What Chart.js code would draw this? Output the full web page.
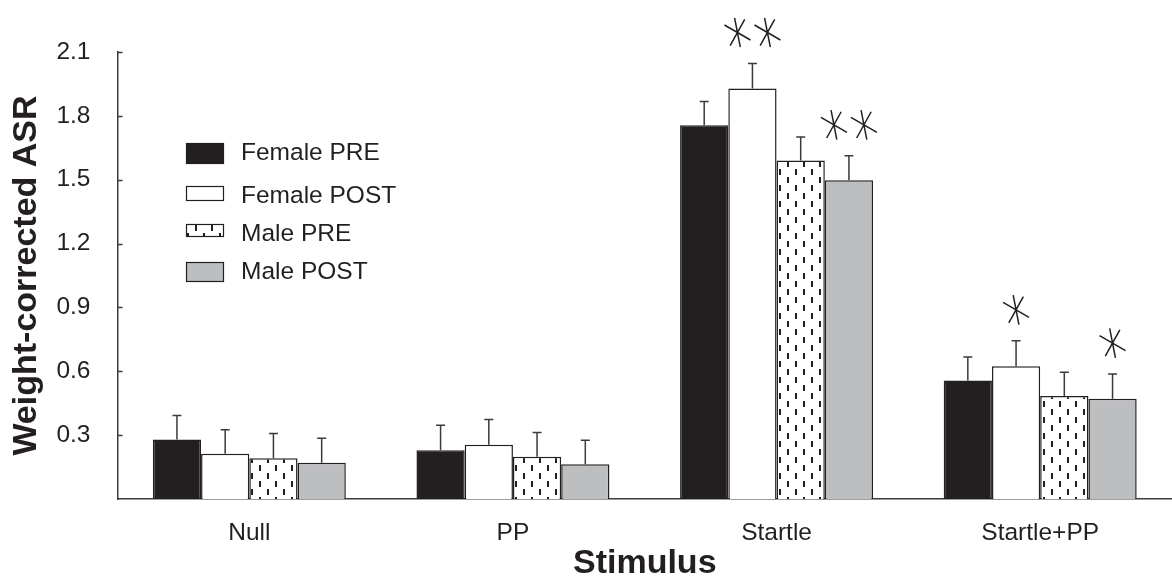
<!DOCTYPE html>
<html>
<head>
<meta charset="utf-8">
<script src="https://cdn.jsdelivr.net/npm/chart.js@4"></script>
<style>
  html, body { margin: 0; padding: 0; background: #ffffff; }
  #wrap { width: 1172px; height: 577px; }
</style>
</head>
<body>
<div id="wrap"><canvas id="chart" width="1172" height="577"></canvas></div>
<script>
// Dati
const categories = ['Null', 'PP', 'Startle', 'Startle+PP'];
const seriesLabels = ['Female PRE', 'Female POST', 'Male PRE', 'Male POST'];

const femalePre = [0.279, 0.229, 1.756, 0.557];
const femalePost = [0.213, 0.255, 1.928, 0.624];
const malePre = [0.191, 0.198, 1.590, 0.484];
const malePost = [0.170, 0.163, 1.498, 0.471];

// errore standard (solo barra superiore)
const femalePreErr = [0.113, 0.117, 0.112, 0.110];
const femalePostErr = [0.112, 0.118, 0.118, 0.119];
const malePreErr = [0.117, 0.115, 0.111, 0.112];
const malePostErr = [0.115, 0.113, 0.114, 0.116];

// numero di asterischi sopra ogni barra
const femalePreSig = [0, 0, 0, 0];
const femalePostSig = [0, 0, 2, 1];
const malePreSig = [0, 0, 0, 0];
const malePostSig = [0, 0, 2, 1];

const yTickValues = [0, 0.3, 0.6, 0.9, 1.2, 1.5, 1.8, 2.1];

const INK = '#231f20';
const FONT = "'Liberation Sans', Arial, sans-serif";

// Pattern a trattini verticali per "Male PRE"
function makeDashPattern() {
    const tile = document.createElement('canvas');
    tile.width = 16;
    tile.height = 16;
    const c = tile.getContext('2d');
    c.fillStyle = '#ffffff';
    c.fillRect(0, 0, 16, 16);
    c.fillStyle = INK;
    c.fillRect(3, 1, 2, 6);
    c.fillRect(11, 9, 2, 6);
    return c.createPattern(tile, 'repeat');
}

const dashPattern = makeDashPattern();

// Disegna un asterisco a 6 bracci
function drawAsterisk(ctx, cx, cy, r) {
    const angles = [30, 79, 119];
    ctx.beginPath();
    angles.forEach(a => {
        const rad = a * Math.PI / 180;
        const dx = Math.cos(rad) * r;
        const dy = Math.sin(rad) * r;
        ctx.moveTo(cx - dx, cy - dy);
        ctx.lineTo(cx + dx, cy + dy);
    });
    ctx.stroke();
}

// Barre di errore + asterischi
const errorBarsPlugin = {
    id: 'errorBars',
    afterDatasetsDraw(chart) {
        const ctx = chart.ctx;
        const yScale = chart.scales.y;
        ctx.save();
        chart.data.datasets.forEach((ds, i) => {
            const meta = chart.getDatasetMeta(i);
            meta.data.forEach((bar, j) => {
                const topY = yScale.getPixelForValue(ds.data[j] + ds.errors[j]);
                ctx.strokeStyle = '#3a3a3a';
                ctx.lineWidth = 1.5;
                ctx.beginPath();
                ctx.moveTo(bar.x, bar.y);
                ctx.lineTo(bar.x, topY);
                ctx.moveTo(bar.x - 4.5, topY);
                ctx.lineTo(bar.x + 4.5, topY);
                ctx.stroke();

                const n = ds.sig[j];
                if (n > 0) {
                    ctx.strokeStyle = INK;
                    ctx.lineWidth = 1.5;
                    const cy = topY - 31;
                    for (let k = 0; k < n; k++) {
                        const cx = bar.x + (k - (n - 1) / 2) * 30;
                        drawAsterisk(ctx, cx, cy, 15);
                    }
                }
            });
        });
        ctx.restore();
    }
};

// Tacche interne sull'asse Y
const innerTicksPlugin = {
    id: 'innerTicks',
    afterDraw(chart) {
        const ctx = chart.ctx;
        const yScale = chart.scales.y;
        const x0 = chart.chartArea.left;
        ctx.save();
        ctx.strokeStyle = '#3b3b3b';
        ctx.lineWidth = 1.3;
        ctx.beginPath();
        yScale.ticks.forEach(t => {
            if (t.value === 0) return;
            const y = Math.round(yScale.getPixelForValue(t.value)) + 0.5;
            ctx.moveTo(x0, y);
            ctx.lineTo(x0 + 5, y);
        });
        ctx.stroke();
        ctx.restore();
    }
};

// Legenda dentro l'area del grafico
const boxLegendPlugin = {
    id: 'boxLegend',
    afterDraw(chart, args, opts) {
        const ctx = chart.ctx;
        ctx.save();
        ctx.font = opts.font;
        ctx.textBaseline = 'middle';
        chart.data.datasets.forEach((ds, i) => {
            const cy = opts.rows[i];
            const h = opts.boxHeights[i];
            const x = opts.x;
            const y = cy - h / 2;
            ctx.fillStyle = ds.backgroundColor;
            ctx.fillRect(x, y, opts.boxWidth, h);
            ctx.strokeStyle = INK;
            ctx.lineWidth = 1.2;
            ctx.strokeRect(x + 0.5, y + 0.5, opts.boxWidth - 1, h - 1);
            ctx.fillStyle = INK;
            ctx.fillText(ds.label, x + opts.boxWidth + 17, opts.textRows[i]);
        });
        ctx.restore();
    }
};

function makeDataset(label, data, errors, sig, color) {
    return {
        label: label,
        data: data,
        errors: errors,
        sig: sig,
        backgroundColor: color,
        borderColor: INK,
        borderWidth: 1.5,
        categoryPercentage: 0.732,
        barPercentage: 1.0
    };
}

const ctx = document.getElementById('chart').getContext('2d');

new Chart(ctx, {
    type: 'bar',
    data: {
        labels: categories,
        datasets: [
            makeDataset(seriesLabels[0], femalePre, femalePreErr, femalePreSig, INK),
            makeDataset(seriesLabels[1], femalePost, femalePostErr, femalePostSig, '#ffffff'),
            makeDataset(seriesLabels[2], malePre, malePreErr, malePreSig, dashPattern),
            makeDataset(seriesLabels[3], malePost, malePostErr, malePostSig, '#bcbec0')
        ]
    },
    options: {
        responsive: false,
        animation: false,
        devicePixelRatio: 1,
        layout: {
            padding: { top: 52, right: -6, left: 0, bottom: 0 }
        },
        plugins: {
            legend: { display: false },
            tooltip: { enabled: false },
            boxLegend: {
                x: 186,
                boxWidth: 38,
                rows: [153.5, 193.5, 230.5, 272],
                boxHeights: [21, 15, 13, 20],
                textRows: [153, 196, 234, 272],
                font: "24.5px " + FONT
            }
        },
        scales: {
            x: {
                grid: { display: false, drawTicks: false },
                border: { display: true, color: '#3b3b3b', width: 1.5 },
                ticks: {
                    color: INK,
                    font: { family: FONT, size: 24.5 },
                    padding: 20
                },
                title: {
                    display: true,
                    text: 'Stimulus',
                    color: INK,
                    font: { family: FONT, size: 34, weight: 'bold', lineHeight: 0.8 },
                    padding: { top: 0, bottom: 0 }
                },
                afterFit(scale) { scale.height = 78; }
            },
            y: {
                min: 0,
                max: 2.1,
                afterBuildTicks(scale) {
                    scale.ticks = yTickValues.map(v => ({ value: v }));
                },
                grid: { display: false, drawTicks: false },
                border: { display: true, color: '#3b3b3b', width: 1.5 },
                ticks: {
                    color: INK,
                    font: { family: FONT, size: 24.5 },
                    padding: 27,
                    callback: v => (v === 0 ? '' : v.toFixed(1))
                },
                title: {
                    display: true,
                    text: 'Weight-corrected ASR',
                    color: INK,
                    font: { family: FONT, size: 34, weight: 'bold', lineHeight: 1.2 },
                    padding: { top: 6, bottom: 0 }
                },
                afterFit(scale) { scale.width = 117.5; }
            }
        }
    },
    plugins: [errorBarsPlugin, innerTicksPlugin, boxLegendPlugin]
});
</script>
</body>
</html>
